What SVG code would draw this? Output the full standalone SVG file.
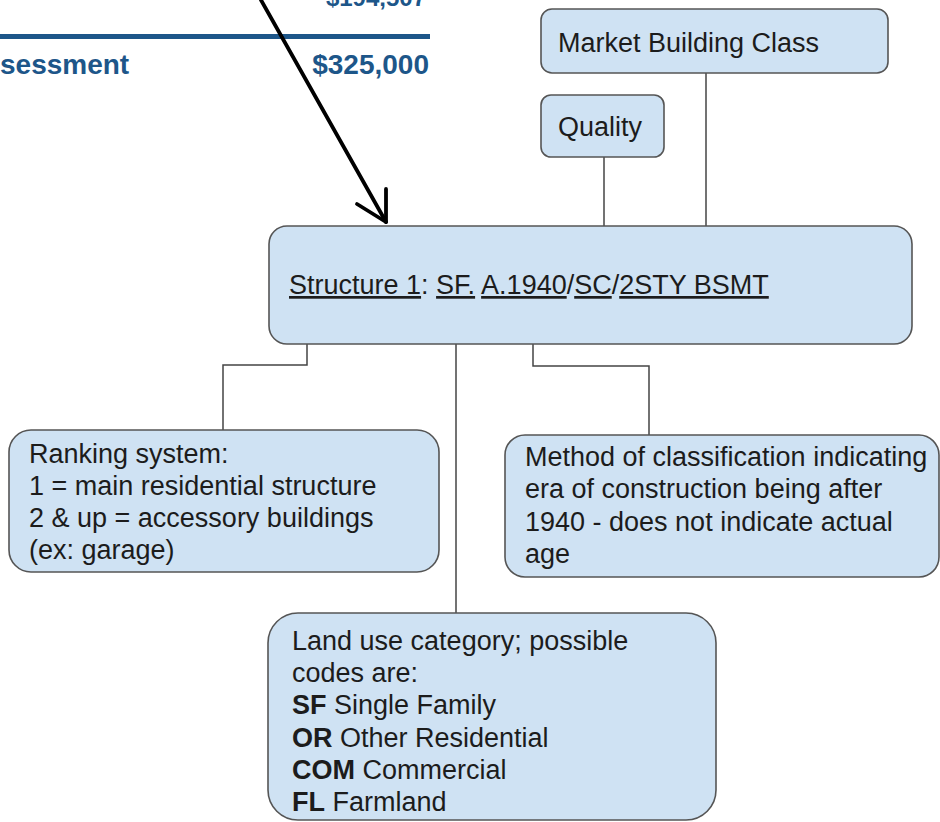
<svg xmlns="http://www.w3.org/2000/svg" width="940" height="822" viewBox="0 0 940 822">
<style>
.box{fill:#cfe2f3;stroke:#555;stroke-width:1.6}
.t{font-family:"Liberation Sans",Arial,sans-serif;font-size:27px;fill:#1c1c1c}
.b{font-weight:bold}
.u{text-decoration:underline}
.bg{font-family:"Liberation Sans",Arial,sans-serif;font-weight:bold;fill:#1d5689}
.con{fill:none;stroke:#444;stroke-width:1.5}
</style>
<rect width="940" height="822" fill="#fff"/>
<g id="background">
<text class="bg" x="426" y="6" font-size="24" text-anchor="end">$194,507</text>
<rect x="0" y="34" width="430" height="5" fill="#1d5689"/>
<text class="bg" x="0" y="74" font-size="28">sessment</text>
<text class="bg" x="429" y="74" font-size="28" text-anchor="end">$325,000</text>
</g>
<g id="connectors">
<path class="con" d="M604 157V270"/>
<path class="con" d="M706 73V270"/>
<path class="con" d="M307 298V365H223V430"/>
<path class="con" d="M456 298V613"/>
<path class="con" d="M533 298V366H649V435"/>
<g fill="none" stroke="#000" stroke-width="3.8" stroke-linecap="round" stroke-linejoin="round">
<path d="M261 0L386 222"/>
<path d="M386 222V189M386 222L357 204"/>
</g>
</g>
<g id="market">
<rect class="box" x="541" y="9" width="347" height="64" rx="11"/>
<text class="t" x="558" y="52">Market Building Class</text>
</g>
<g id="quality">
<rect class="box" x="541" y="95" width="123" height="62" rx="10"/>
<text class="t" x="558" y="136">Quality</text>
</g>
<g id="structure">
<rect class="box" x="269" y="226" width="643" height="118" rx="18"/>
<text class="t" x="289" y="294"><tspan class="u">Structure 1</tspan>: <tspan class="u">SF.</tspan> <tspan class="u">A.1940</tspan>/<tspan class="u">SC</tspan>/<tspan class="u">2STY BSMT</tspan></text>
</g>
<g id="ranking">
<rect class="box" x="9" y="430" width="430" height="142" rx="22"/>
<text class="t" x="29" y="463">Ranking system:</text>
<text class="t" x="29" y="495">1 = main residential structure</text>
<text class="t" x="29" y="527">2 &amp; up = accessory buildings</text>
<text class="t" x="29" y="559">(ex: garage)</text>
</g>
<g id="method">
<rect class="box" x="505" y="435" width="434" height="142" rx="20"/>
<text class="t" x="525" y="466">Method of classification indicating</text>
<text class="t" x="525" y="498">era of construction being after</text>
<text class="t" x="525" y="531">1940 - does not indicate actual</text>
<text class="t" x="525" y="563">age</text>
</g>
<g id="landuse">
<rect class="box" x="268" y="613" width="448" height="207" rx="30"/>
<text class="t" x="292" y="650">Land use category; possible</text>
<text class="t" x="292" y="682">codes are:</text>
<text class="t" x="292" y="714"><tspan class="b">SF</tspan> Single Family</text>
<text class="t" x="292" y="747"><tspan class="b">OR</tspan> Other Residential</text>
<text class="t" x="292" y="779"><tspan class="b">COM</tspan> Commercial</text>
<text class="t" x="292" y="811"><tspan class="b">FL</tspan> Farmland</text>
</g>
</svg>
